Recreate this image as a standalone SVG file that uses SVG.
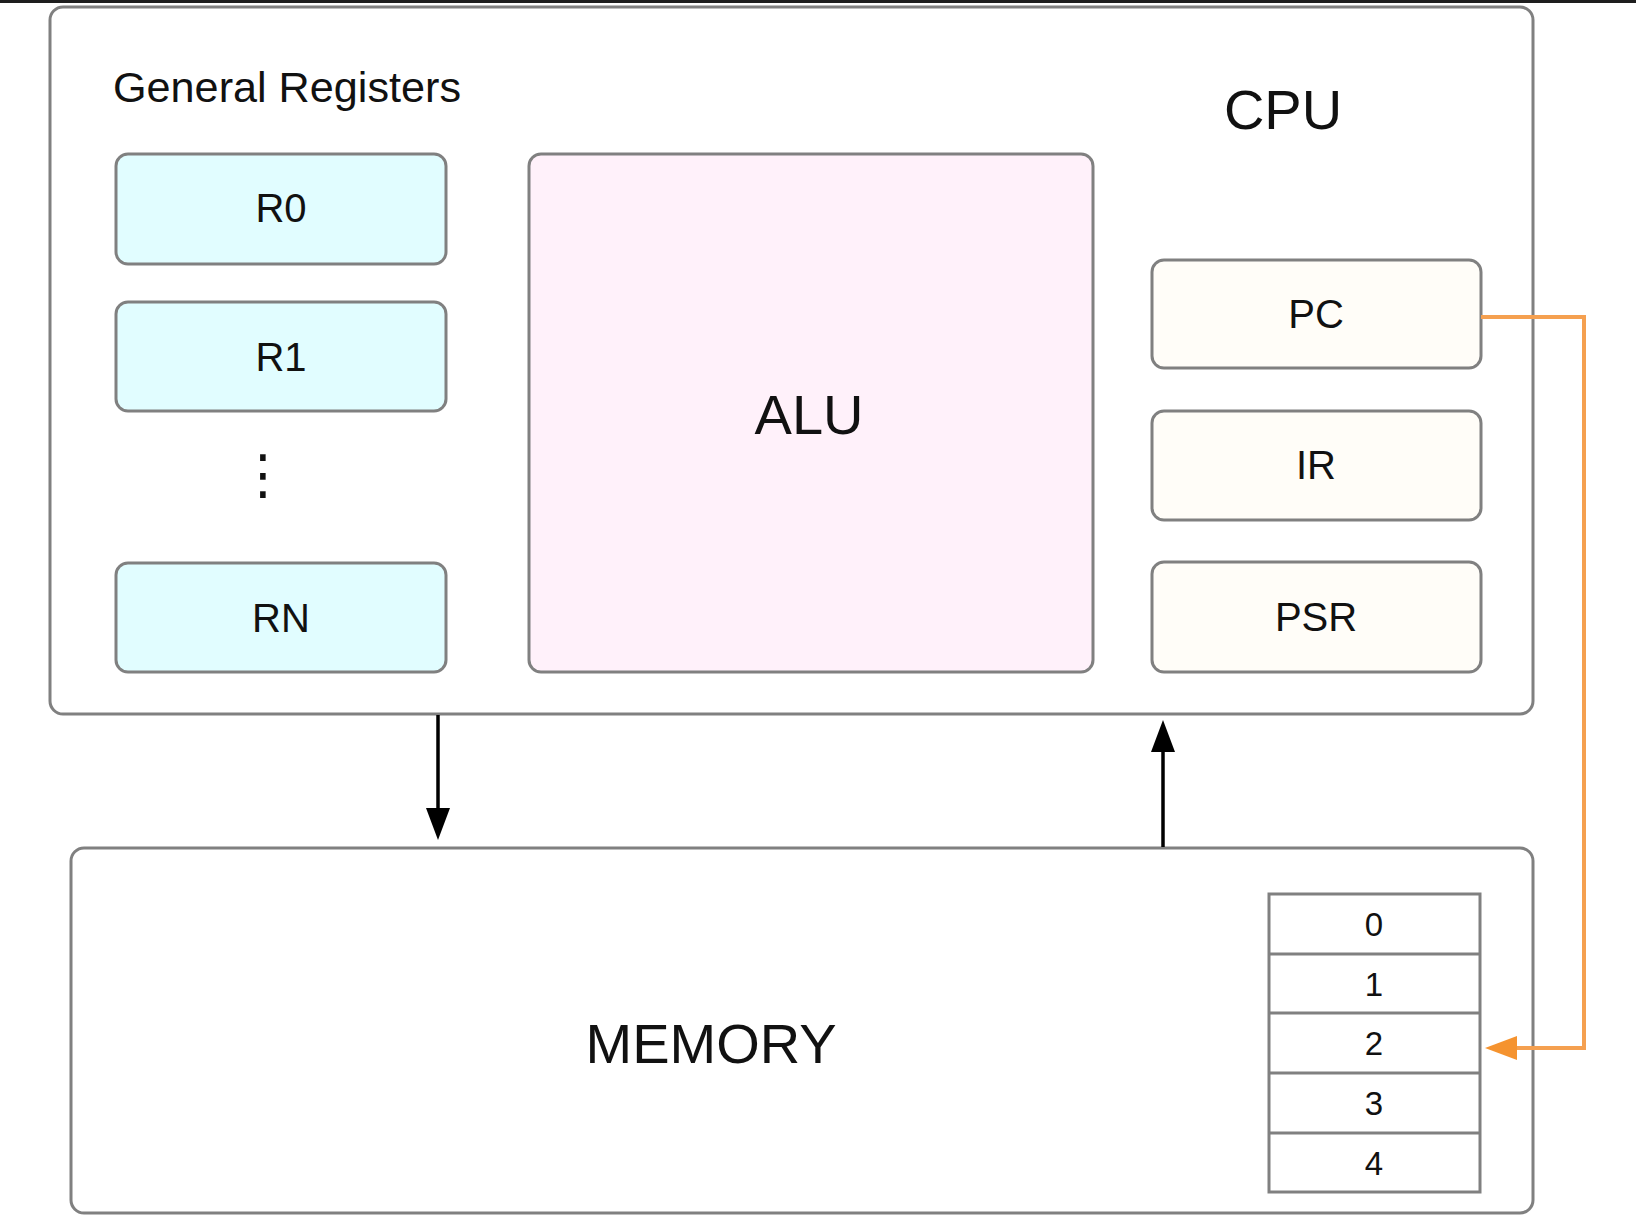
<svg xmlns="http://www.w3.org/2000/svg" width="1636" height="1230" viewBox="0 0 1636 1230">
<style>
.box{stroke:#808080;stroke-width:3}
.reg{fill:#E1FDFF}
.sp{fill:#FFFDF8}
.t{font-family:"Liberation Sans",Arial,sans-serif;fill:#111;text-anchor:middle}
.cell{fill:#fff;stroke:#808080;stroke-width:3}
</style>
<defs>
<marker id="ab" viewBox="0 0 32 24" refX="0" refY="12" markerWidth="32" markerHeight="24" markerUnits="userSpaceOnUse" orient="auto">
<path d="M0,0 L32,12 L0,24 Z" fill="#000"/>
</marker>
<marker id="ao" viewBox="0 0 32 24" refX="0" refY="12" markerWidth="32" markerHeight="24" markerUnits="userSpaceOnUse" orient="auto">
<path d="M0,0 L32,12 L0,24 Z" fill="#F5932F"/>
</marker>
</defs>
<rect width="1636" height="1230" fill="#fff"/>
<rect x="0" y="0" width="1636" height="3" fill="#1e1e1e"/>

<g id="cpu">
<rect class="box" x="50" y="7" width="1483" height="707" rx="13" fill="#fff"/>
<text class="t" x="1283" y="129" font-size="56">CPU</text>
<text class="t" x="113" y="102" font-size="42" textLength="348" lengthAdjust="spacingAndGlyphs" style="text-anchor:start">General Registers</text>
</g>
<g id="r0"><rect class="box reg" x="116" y="154" width="330" height="110" rx="12"/><text class="t" x="281" y="222" font-size="40">R0</text></g>
<g id="r1"><rect class="box reg" x="116" y="302" width="330" height="109" rx="12"/><text class="t" x="281" y="371" font-size="40">R1</text></g>
<g id="dots"><text class="t" x="263" y="493" font-size="54" style="font-family:'DejaVu Sans',sans-serif">⋮</text></g>
<g id="rn"><rect class="box reg" x="116" y="563" width="330" height="109" rx="12"/><text class="t" x="281" y="632" font-size="40">RN</text></g>
<g id="alu"><rect class="box" x="529" y="154" width="564" height="518" rx="12" fill="#FFF1FA"/><text class="t" x="809" y="434" font-size="56">ALU</text></g>
<g id="pc"><rect class="box sp" x="1152" y="260" width="329" height="108" rx="12"/><text class="t" x="1316" y="328" font-size="40">PC</text></g>
<g id="ir"><rect class="box sp" x="1152" y="411" width="329" height="109" rx="12"/><text class="t" x="1316" y="479" font-size="40">IR</text></g>
<g id="psr"><rect class="box sp" x="1152" y="562" width="329" height="110" rx="12"/><text class="t" x="1316" y="631" font-size="40">PSR</text></g>

<g id="memory">
<rect class="box" x="71" y="848" width="1462" height="365" rx="13" fill="#fff"/>
<text class="t" x="711" y="1063" font-size="56">MEMORY</text>
</g>
<g id="memtable">
<rect class="cell" x="1269" y="894" width="211" height="298"/>
<path d="M1269,954 H1480 M1269,1013 H1480 M1269,1073 H1480 M1269,1133 H1480" stroke="#808080" stroke-width="3" fill="none"/>
<text class="t" x="1374" y="936" font-size="33">0</text>
<text class="t" x="1374" y="996" font-size="33">1</text>
<text class="t" x="1374" y="1055" font-size="33">2</text>
<text class="t" x="1374" y="1115" font-size="33">3</text>
<text class="t" x="1374" y="1175" font-size="33">4</text>
</g>

<g id="connectors" fill="none">
<line x1="438" y1="715" x2="438" y2="808" stroke="#000" stroke-width="3.5" marker-end="url(#ab)"/>
<line x1="1163" y1="847" x2="1163" y2="752" stroke="#000" stroke-width="3.5" marker-end="url(#ab)"/>
<path d="M1481,317 H1584 V1048 H1517" stroke="#F5A050" stroke-width="4" marker-end="url(#ao)"/>
</g>
</svg>
